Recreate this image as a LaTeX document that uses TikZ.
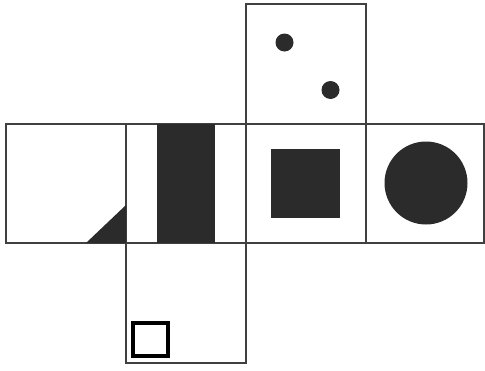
\documentclass[tikz,border=0pt]{standalone}
\begin{document}
\begin{tikzpicture}[x=1pt,y=-1pt,
  face/.style={draw=black!75,line width=1.3pt},
  ink/.style={fill=black!83,draw=none}]
\useasboundingbox (0,0) rectangle (485,370);
% faces
\draw[face] (6,124) rectangle (126,243);
\draw[face] (126,124) rectangle (246,243);
\draw[face] (246,124) rectangle (366,243);
\draw[face] (366,124) rectangle (484,243);
\draw[face] (246,4) rectangle (366,124);
\draw[face] (126,243) rectangle (246,363);
% contents
\fill[ink] (86,243) -- (126,243) -- (126,205) -- cycle;
\fill[ink] (157,124) rectangle (215,243);
\fill[ink] (271,149) rectangle (340,218);
\fill[ink] (426,183) circle (41.5);
\fill[ink] (284.5,42.5) circle (9);
\fill[ink] (330.5,90) circle (9);
\draw[draw=black,line width=4pt] (133,323) rectangle (168,356);
\end{tikzpicture}
\end{document}
